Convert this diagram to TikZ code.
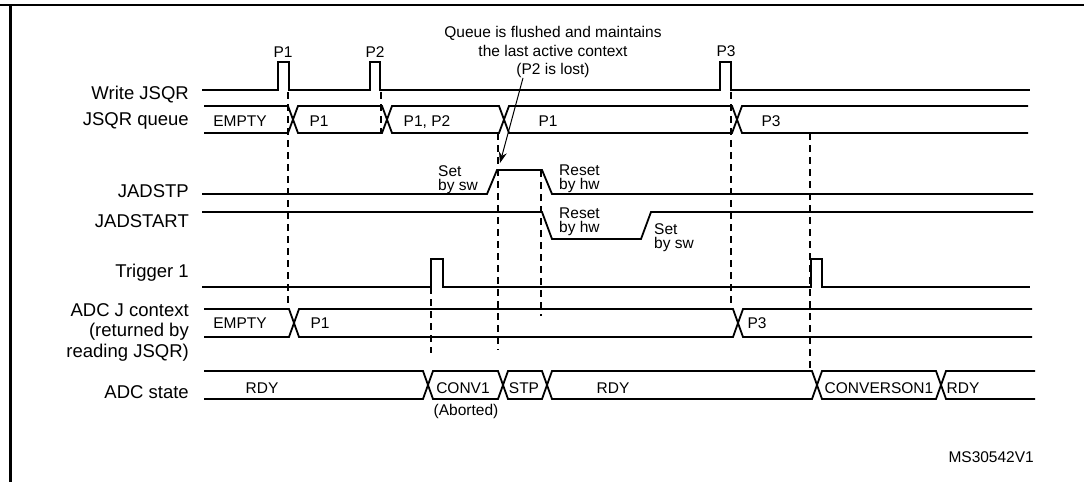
\documentclass[tikz,border=0pt]{standalone}
\usepackage{fontspec}
\setmainfont{Liberation Sans}
\usetikzlibrary{arrows.meta}

\begin{document}
\begin{tikzpicture}[
    x=1pt, y=-1pt,
    wave/.style={line width=1.8pt},
    guide/.style={line width=2pt, dash pattern=on 7pt off 5pt},
    sname/.style={font=\fontsize{18.5}{20.5}\selectfont, inner sep=0pt, anchor=base east},
    sval/.style={font=\fontsize{15.5}{17}\selectfont, inner sep=0pt, anchor=base},
    remark/.style={font=\fontsize{15.5}{14}\selectfont, inner sep=0pt, anchor=north west, align=left},
    arrow/.style={line width=1pt, -{Stealth[length=11pt, width=8pt]}}
]
\useasboundingbox (0,0) rectangle (1084,482);

\draw [line width=2.5pt] (0,5) -- (1084,5);
\draw [line width=3pt] (10,5) -- (10,482);

% signal names
\node (lwrite) [sname] at (189,99) {Write JSQR};
\node (lqueue) [sname] at (189,125) {JSQR queue};
\node (ladstp) [sname] at (189,197) {JADSTP};
\node (ladstart) [sname] at (189,227) {JADSTART};
\node (ltrig) [sname] at (189,277) {Trigger 1};
\node (lcontext) [sname, anchor=north east, align=right] at (189,303) {ADC J context\\(returned by\\reading JSQR)};
\node (lstate) [sname] at (189,398) {ADC state};

% guides
\draw [guide] (288,92) -- (288,309);
\draw [guide] (381,92) -- (381,133);
\draw [guide] (498,133) -- (498,350);
\draw [guide] (541,170) -- (541,316);
\draw [guide] (431,287) -- (431,353);
\draw [guide] (731,92) -- (731,309);
\draw [guide] (810,133) -- (810,371);

% Write JSQR
\draw [wave] (202,90) -- (278,90) -- (278,62) -- (289,62) -- (289,90) -- (370,90) -- (370,62) -- (380,62) -- (380,90)
    -- (720,90) -- (720,62) -- (731,62) -- (731,90) -- (1030,90);
\node (p1) [sval] at (283,57) {P1};
\node (p2) [sval] at (375,57) {P2};
\node (p3) [sval] at (726,56) {P3};

% JSQR queue
\draw [wave] (204,106) -- (288,106) -- (298,133) -- (382,133) -- (392,106) -- (499,106) -- (509,133) -- (732,133) -- (742,106) -- (1028,106);
\draw [wave] (204,133) -- (288,133) -- (298,106) -- (382,106) -- (392,133) -- (499,133) -- (509,106) -- (732,106) -- (742,133) -- (1028,133);
\node (qempty) [sval] at (240,126) {EMPTY};
\node (qp1) [sval] at (319,126) {P1};
\node (qp12) [sval] at (427,126) {P1, P2};
\node (qp1b) [sval] at (548,126) {P1};
\node (qp3) [sval] at (771,126) {P3};

% JADSTP
\draw [wave] (202,194) -- (487,194) -- (497,170) -- (542,170) -- (552,194) -- (1033,194);
\node (stpset) [remark] at (438,165) {Set\\by sw};
\node (stpreset) [remark] at (559,165) {Reset\\by hw};

% JADSTART
\draw [wave] (202,212) -- (542,212) -- (552,239) -- (641,239) -- (651,212) -- (1033,212);
\node (startreset) [remark] at (559,208) {Reset\\by hw};
\node (startset) [remark] at (654,223) {Set\\by sw};

% Trigger 1
\draw [wave] (202,287) -- (431,287) -- (431,259) -- (443,259) -- (443,287) -- (811,287) -- (811,259) -- (822,259) -- (822,287) -- (1030,287);

% ADC J context
\draw [wave] (204,309) -- (289,309) -- (299,337) -- (733,337) -- (743,309) -- (1032,309);
\draw [wave] (204,337) -- (289,337) -- (299,309) -- (733,309) -- (743,337) -- (1032,337);
\node (cempty) [sval] at (240,328) {EMPTY};
\node (cp1) [sval] at (320,328) {P1};
\node (cp3) [sval] at (757,328) {P3};

% ADC state
\draw [wave] (204,371) -- (423,371) -- (433,399) -- (498,399) -- (508,371) -- (542,371) -- (552,399) -- (812,399) -- (822,371) -- (936,371) -- (946,399) -- (1035,399);
\draw [wave] (204,399) -- (423,399) -- (433,371) -- (498,371) -- (508,399) -- (542,399) -- (552,371) -- (812,371) -- (822,399) -- (936,399) -- (946,371) -- (1035,371);
\node (srdy) [sval] at (262,393) {RDY};
\node (sconv) [sval] at (463,393) {CONV1};
\node (sstp) [sval] at (524,393) {STP};
\node (srdyb) [sval] at (613,393) {RDY};
\node (sconvb) [sval] at (879,393) {CONVERSON1};
\node (srdyc) [sval] at (963,393) {RDY};
\node (abort) [sval] at (466,415) {(Aborted)};

% flush note
\node (flush) [font=\fontsize{15.5}{18.5}\selectfont, inner sep=0pt, align=center] at (553,52) {Queue is flushed and maintains\\the last active context\\(P2 is lost)};
\coordinate (flushtip) at (500,163);
\draw [arrow] ([xshift=-30pt]flush.south) -- (flushtip);

\node (ref) [sval, anchor=base east] at (1034,462) {MS30542V1};
\end{tikzpicture}
\end{document}
